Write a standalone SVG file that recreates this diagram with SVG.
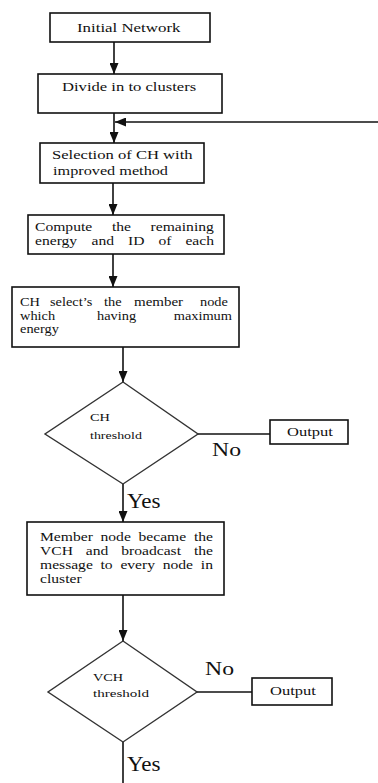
<svg xmlns="http://www.w3.org/2000/svg" width="378" height="783" viewBox="0 0 378 783">
<defs>
<marker id="ah" markerUnits="userSpaceOnUse" markerWidth="11" markerHeight="9" refX="11" refY="4.5" orient="auto"><path d="M0,0 L11,4.5 L0,9 z" fill="#111"/></marker>
<style>
.b{fill:#fff;stroke:#111;stroke-width:1.6}
.d{fill:#fff;stroke:#333;stroke-width:1.4}
.c{fill:none;stroke:#111;stroke-width:1.6}
text{font-family:"Liberation Serif","Times New Roman",serif;fill:#111}
.t{font-size:12.5px}
.s{font-size:11px}
.o{font-size:13px}
.n{font-size:18px}
.y{font-size:22px}
</style>
</defs>
<rect width="378" height="783" fill="#fff"/>
<g id="connectors">
<line class="c" x1="114" y1="42" x2="114" y2="74" marker-end="url(#ah)"/>
<line class="c" x1="114" y1="113" x2="114" y2="143" marker-end="url(#ah)"/>
<line class="c" x1="378" y1="122" x2="115" y2="122" marker-end="url(#ah)"/>
<line class="c" x1="113" y1="183" x2="113" y2="215" marker-end="url(#ah)"/>
<line class="c" x1="113" y1="254" x2="113" y2="287" marker-end="url(#ah)"/>
<line class="c" x1="123" y1="347" x2="123" y2="382" marker-end="url(#ah)"/>
<line class="c" x1="198" y1="434" x2="270" y2="434"/>
<line class="c" x1="123" y1="484" x2="123" y2="522" marker-end="url(#ah)"/>
<line class="c" x1="123" y1="595" x2="123" y2="641" marker-end="url(#ah)"/>
<line class="c" x1="197" y1="692" x2="252" y2="692"/>
<line class="c" x1="123" y1="742" x2="123" y2="783"/>
<text class="n" transform="translate(212,456) scale(1.32,1)">No</text>
<text class="y" transform="translate(127,508) scale(1.05,1)">Yes</text>
<text class="n" transform="translate(205,675) scale(1.32,1)">No</text>
<text class="y" transform="translate(127,771) scale(1.05,1)">Yes</text>
</g>
<g id="initial">
<rect class="b" x="50" y="13" width="160" height="29"/>
<text class="t" transform="translate(77,31.5) scale(1.35,1)">Initial Network</text>
</g>
<g id="divide">
<rect class="b" x="38" y="74" width="184" height="39"/>
<text class="t" transform="translate(62,91) scale(1.33,1)">Divide in to clusters</text>
</g>
<g id="selection">
<rect class="b" x="40" y="143" width="164" height="40"/>
<text class="t" transform="translate(52,159) scale(1.33,1)">Selection of CH with</text>
<text class="t" transform="translate(53,175) scale(1.3,1)">improved method</text>
</g>
<g id="compute">
<rect class="b" x="28" y="215" width="196" height="39"/>
<text class="t" transform="translate(35,231) scale(1.25,1)">Compute</text>
<text class="t" transform="translate(111.9,231) scale(1.25,1)">the</text>
<text class="t" transform="translate(150.6,231) scale(1.25,1)">remaining</text>
<text class="t" transform="translate(35,245) scale(1.25,1)">energy</text>
<text class="t" transform="translate(91.5,245) scale(1.25,1)">and</text>
<text class="t" transform="translate(128,245) scale(1.25,1)">ID</text>
<text class="t" transform="translate(158.5,245) scale(1.25,1)">of</text>
<text class="t" transform="translate(185.4,245) scale(1.25,1)">each</text>
</g>
<g id="chselect">
<rect class="b" x="12" y="287" width="227" height="60"/>
<text class="t" transform="translate(20,306) scale(1.15,1)">CH</text>
<text class="t" transform="translate(50,306) scale(1.15,1)">select’s</text>
<text class="t" transform="translate(104,306) scale(1.15,1)">the</text>
<text class="t" transform="translate(134,306) scale(1.2,1)">member</text>
<text class="t" transform="translate(200,306) scale(1.15,1)">node</text>
<text class="t" transform="translate(20,319.5) scale(1.15,1)">which</text>
<text class="t" transform="translate(97,319.5) scale(1.15,1)">having</text>
<text class="t" transform="translate(173.7,319.5) scale(1.15,1)">maximum</text>
<text class="t" transform="translate(20,333) scale(1.15,1)">energy</text>
</g>
<g id="chthreshold">
<polygon class="d" points="123,382 198,434 123,484 45,434"/>
<text class="s" transform="translate(90,421) scale(1.3,1)">CH</text>
<text class="s" transform="translate(90,439) scale(1.27,1)">threshold</text>
</g>
<g id="output1">
<rect class="b" x="270" y="420" width="78" height="24"/>
<text class="o" transform="translate(287,436) scale(1.27,1)">Output</text>
</g>
<g id="member">
<rect class="b" x="27" y="522" width="197" height="73"/>
<text class="t" transform="translate(40,541) scale(1.25,1)">Member</text>
<text class="t" transform="translate(100.5,541) scale(1.25,1)">node</text>
<text class="t" transform="translate(138.5,541) scale(1.25,1)">became</text>
<text class="t" transform="translate(193.9,541) scale(1.25,1)">the</text>
<text class="t" transform="translate(40,555) scale(1.25,1)">VCH</text>
<text class="t" transform="translate(85.8,555) scale(1.25,1)">and</text>
<text class="t" transform="translate(121.2,555) scale(1.25,1)">broadcast</text>
<text class="t" transform="translate(193.9,555) scale(1.25,1)">the</text>
<text class="t" transform="translate(40,569) scale(1.25,1)">message</text>
<text class="t" transform="translate(100.5,569) scale(1.25,1)">to</text>
<text class="t" transform="translate(120.4,569) scale(1.25,1)">every</text>
<text class="t" transform="translate(162.7,569) scale(1.25,1)">node</text>
<text class="t" transform="translate(200.8,569) scale(1.25,1)">in</text>
<text class="t" transform="translate(40,583) scale(1.25,1)">cluster</text>
</g>
<g id="vchthreshold">
<polygon class="d" points="123,641 197,692 123,742 48,692"/>
<text class="s" transform="translate(93,681) scale(1.3,1)">VCH</text>
<text class="s" transform="translate(93,697) scale(1.37,1)">threshold</text>
</g>
<g id="output2">
<rect class="b" x="252" y="678" width="80" height="27"/>
<text class="o" transform="translate(270,695) scale(1.27,1)">Output</text>
</g>
</svg>
